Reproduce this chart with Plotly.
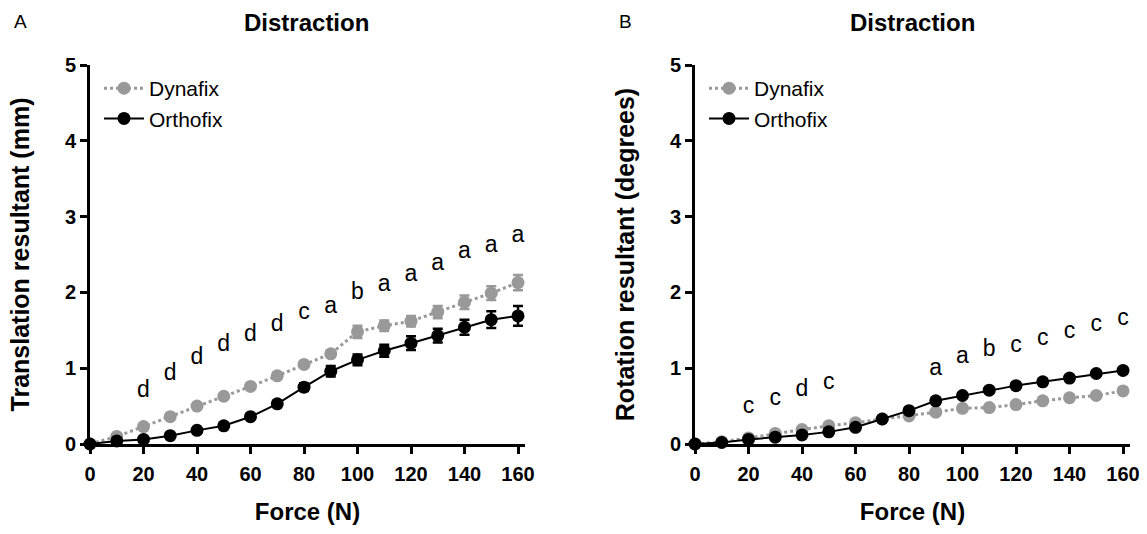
import plotly.graph_objects as go

force = [0, 10, 20, 30, 40, 50, 60, 70, 80, 90, 100, 110, 120, 130, 140, 150, 160]

# Panel A: translation resultant (mm)
a_dyn = [0, 0.10, 0.23, 0.36, 0.50, 0.63, 0.76, 0.90, 1.05, 1.19, 1.48, 1.56, 1.62, 1.74, 1.87, 1.99, 2.13]
a_dyn_err = [0, 0.01, 0.02, 0.02, 0.02, 0.02, 0.03, 0.03, 0.03, 0.04, 0.08, 0.07, 0.07, 0.08, 0.09, 0.09, 0.10]
a_ort = [0, 0.04, 0.06, 0.11, 0.18, 0.24, 0.36, 0.53, 0.75, 0.96, 1.11, 1.23, 1.33, 1.43, 1.54, 1.64, 1.69]
a_ort_err = [0, 0.01, 0.01, 0.01, 0.02, 0.02, 0.03, 0.03, 0.05, 0.07, 0.07, 0.08, 0.09, 0.09, 0.10, 0.11, 0.13]
a_let_x = [20, 30, 40, 50, 60, 70, 80, 90, 100, 110, 120, 130, 140, 150, 160]
a_let = ["d", "d", "d", "d", "d", "d", "c", "a", "b", "a", "a", "a", "a", "a", "a"]
a_let_y = [0.69, 0.92, 1.13, 1.30, 1.43, 1.57, 1.73, 1.81, 1.99, 2.10, 2.22, 2.37, 2.53, 2.61, 2.74]

# Panel B: rotation resultant (degrees)
b_dyn = [0, 0.03, 0.08, 0.14, 0.19, 0.24, 0.28, 0.33, 0.37, 0.42, 0.47, 0.48, 0.52, 0.57, 0.61, 0.64, 0.70]
b_dyn_err = [0, 0.01, 0.01, 0.01, 0.01, 0.01, 0.01, 0.01, 0.01, 0.01, 0.02, 0.02, 0.02, 0.02, 0.02, 0.02, 0.02]
b_ort = [0, 0.02, 0.06, 0.09, 0.12, 0.16, 0.22, 0.33, 0.44, 0.57, 0.64, 0.71, 0.77, 0.82, 0.87, 0.93, 0.97]
b_ort_err = [0, 0.01, 0.01, 0.01, 0.01, 0.01, 0.01, 0.01, 0.02, 0.02, 0.02, 0.02, 0.02, 0.02, 0.03, 0.03, 0.04]
b_let_x = [20, 30, 40, 50, 90, 100, 110, 120, 130, 140, 150, 160]
b_let = ["c", "c", "d", "c", "a", "a", "b", "c", "c", "c", "c", "c"]
b_let_y = [0.49, 0.59, 0.71, 0.80, 0.99, 1.14, 1.24, 1.29, 1.38, 1.47, 1.57, 1.65]

x_ticks = [0, 20, 40, 60, 80, 100, 120, 140, 160]
y_ticks = [0, 1, 2, 3, 4, 5]

GRAY = "#999999"
FONT = "Arial, Liberation Sans, sans-serif"
W, H = 1147, 534

fig = go.Figure()

def add_panel(xa, ya, dyn, dyn_err, ort, ort_err, lx, ly, lt, legend):
    fig.add_trace(go.Scatter(
        x=force, y=dyn, name="Dynafix", mode="lines+markers",
        line=dict(color=GRAY, width=3, dash="dot"),
        marker=dict(color=GRAY, size=13),
        error_y=dict(type="data", array=dyn_err, color=GRAY, thickness=2.5, width=5),
        xaxis=xa, yaxis=ya, legend=legend, legendgroup=legend + "d",
        cliponaxis=False))
    fig.add_trace(go.Scatter(
        x=force, y=ort, name="Orthofix", mode="lines+markers",
        line=dict(color="black", width=2),
        marker=dict(color="black", size=13),
        error_y=dict(type="data", array=ort_err, color="black", thickness=2.5, width=5),
        xaxis=xa, yaxis=ya, legend=legend, legendgroup=legend + "o",
        cliponaxis=False))
    fig.add_trace(go.Scatter(
        x=lx, y=ly, text=lt, mode="text",
        textfont=dict(size=23, color="black", family=FONT),
        showlegend=False, xaxis=xa, yaxis=ya, cliponaxis=False))

add_panel("x", "y", a_dyn, a_dyn_err, a_ort, a_ort_err, a_let_x, a_let_y, a_let, "legend")
add_panel("x2", "y2", b_dyn, b_dyn_err, b_ort, b_ort_err, b_let_x, b_let_y, b_let, "legend2")

axis_common = dict(
    showline=True, linecolor="black", linewidth=3, mirror=False,
    ticks="outside", ticklen=7, tickwidth=3, tickcolor="black",
    showgrid=False, zeroline=False, automargin=False,
    tickfont=dict(family=FONT, size=20, color="black", weight="bold"),
)

PX_PER_N = 2.675
XMAX = 160 + 7 / PX_PER_N
y_dom = [(H - 444) / H, (H - 65) / H]

xtitle = dict(text="Force (N)", font=dict(size=24, weight="bold"), standoff=20)

fig.update_layout(
    width=W, height=H,
    margin=dict(l=0, r=0, t=0, b=0),
    paper_bgcolor="white", plot_bgcolor="white",
    font=dict(family=FONT, color="black"),
    xaxis=dict(domain=[90 / W, (90 + XMAX * PX_PER_N) / W], range=[0, XMAX], tickvals=x_ticks,
               anchor="y", title=xtitle, ticklabelstandoff=3, **axis_common),
    yaxis=dict(domain=y_dom, range=[0, 5], tickvals=y_ticks, anchor="x",
               title=dict(text="Translation resultant (mm)", font=dict(size=25, weight="bold"), standoff=29),
               **axis_common),
    xaxis2=dict(domain=[695 / W, (695 + XMAX * PX_PER_N) / W], range=[0, XMAX], tickvals=x_ticks,
                anchor="y2", title=xtitle, ticklabelstandoff=3, **axis_common),
    yaxis2=dict(domain=y_dom, range=[0, 5], tickvals=y_ticks, anchor="x2",
                title=dict(text="Rotation resultant (degrees)", font=dict(size=25, weight="bold"), standoff=29),
                **axis_common),
    legend=dict(x=99 / W, y=1 - 68 / H, xanchor="left", yanchor="top",
                font=dict(size=21, family=FONT), bgcolor="rgba(0,0,0,0)",
                tracegroupgap=0, itemwidth=40),
    legend2=dict(x=704 / W, y=1 - 68 / H, xanchor="left", yanchor="top",
                 font=dict(size=21, family=FONT), bgcolor="rgba(0,0,0,0)",
                 tracegroupgap=0, itemwidth=40),
    annotations=[
        dict(text="<b>Distraction</b>", x=306 / W, y=1 - 23 / H, xref="paper", yref="paper",
             showarrow=False, font=dict(size=24, family=FONT), xanchor="center", yanchor="middle"),
        dict(text="<b>Distraction</b>", x=912 / W, y=1 - 23 / H, xref="paper", yref="paper",
             showarrow=False, font=dict(size=24, family=FONT), xanchor="center", yanchor="middle"),
        dict(text="A", x=12 / W, y=1 - 22 / H, xref="paper", yref="paper",
             showarrow=False, font=dict(size=19, family=FONT), xanchor="left", yanchor="middle"),
        dict(text="B", x=617 / W, y=1 - 22 / H, xref="paper", yref="paper",
             showarrow=False, font=dict(size=19, family=FONT), xanchor="left", yanchor="middle"),
    ],
)

fig.write_html("out.html", config={"displayModeBar": False},
               post_script="document.body.style.margin='0';")
